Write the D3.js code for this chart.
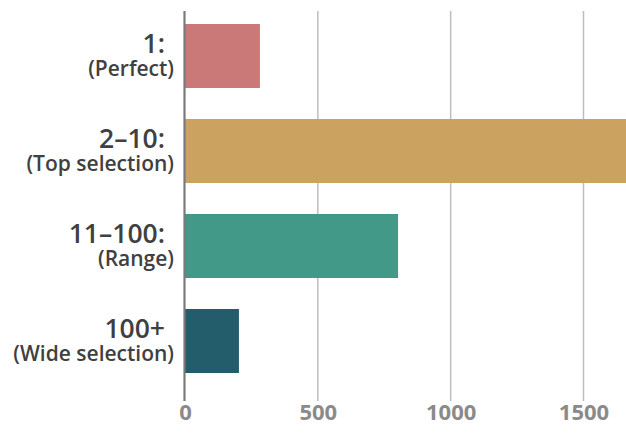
<!DOCTYPE html>
<html>
<head>
<meta charset="utf-8">
<script src="https://cdn.jsdelivr.net/npm/d3@7"></script>
<style>
  html, body { margin: 0; padding: 0; background: #fff; }
  svg { display: block; font-family: "Open Sans", sans-serif; }
</style>
</head>
<body>
<svg id="chart" width="626" height="434"></svg>
<script>
// Rank buckets and how many results fell into each
const categories = ["1:", "2–10:", "11–100:", "100+"];
const subLabels = ["(Perfect)", "(Top selection)", "(Range)", "(Wide selection)"];
const counts = [282, 1660, 802, 203];
const colors = ["#cb7878", "#cba260", "#429988", "#235c6b"];
const tickValues = [0, 500, 1000, 1500];

const svg = d3.select("#chart");

const x = d3.scaleLinear().domain([0, 1660]).range([185, 626]);
const y = d3.scaleBand()
  .domain(categories)
  .range([8.5, 388.5])
  .paddingInner(0.3263)
  .paddingOuter(0.1632);

// vertical grid lines
svg.append("g")
  .selectAll("line")
  .data(tickValues.filter(d => d > 0))
  .join("line")
  .attr("x1", d => x(d)).attr("x2", d => x(d))
  .attr("y1", 11).attr("y2", 401)
  .attr("stroke", "#bdbdbd")
  .attr("stroke-width", 1.5);

// bars
svg.append("g")
  .selectAll("rect")
  .data(categories)
  .join("rect")
  .attr("x", x(0))
  .attr("y", d => y(d))
  .attr("width", (d, i) => x(counts[i]) - x(0))
  .attr("height", y.bandwidth())
  .attr("fill", (d, i) => colors[i]);

// baseline axis
svg.append("line")
  .attr("x1", x(0) - 0.5).attr("x2", x(0) - 0.5)
  .attr("y1", 11).attr("y2", 401)
  .attr("stroke", "#7a7a7a")
  .attr("stroke-width", 2.2);

// bottom tick labels
const xAxis = d3.axisBottom(x).tickValues(tickValues).tickSize(0).tickPadding(0).tickFormat(d3.format("d"));
const gx = svg.append("g")
  .attr("transform", "translate(0,420)")
  .call(xAxis);
gx.select(".domain").remove();
gx.selectAll("text")
  .attr("dy", 0)
  .attr("font-family", "'Open Sans', sans-serif")
  .attr("font-size", 22)
  .attr("font-weight", 700)
  .attr("fill", "#8a8a8a");

// two-line category labels: range on top, description below
const labels = svg.append("g")
  .selectAll("text")
  .data(categories)
  .join("text")
  .attr("transform", d => `translate(0,${y(d) + y.bandwidth() / 2})`)
  .attr("text-anchor", "end")
  .attr("font-weight", 600)
  .attr("fill", "#404040");

labels.append("tspan")
  .attr("x", 165)
  .attr("y", -3)
  .attr("font-size", 26.5)
  .text(d => d);

labels.append("tspan")
  .attr("x", 174)
  .attr("y", 20)
  .attr("font-size", 21)
  .text((d, i) => subLabels[i]);
</script>
</body>
</html>
